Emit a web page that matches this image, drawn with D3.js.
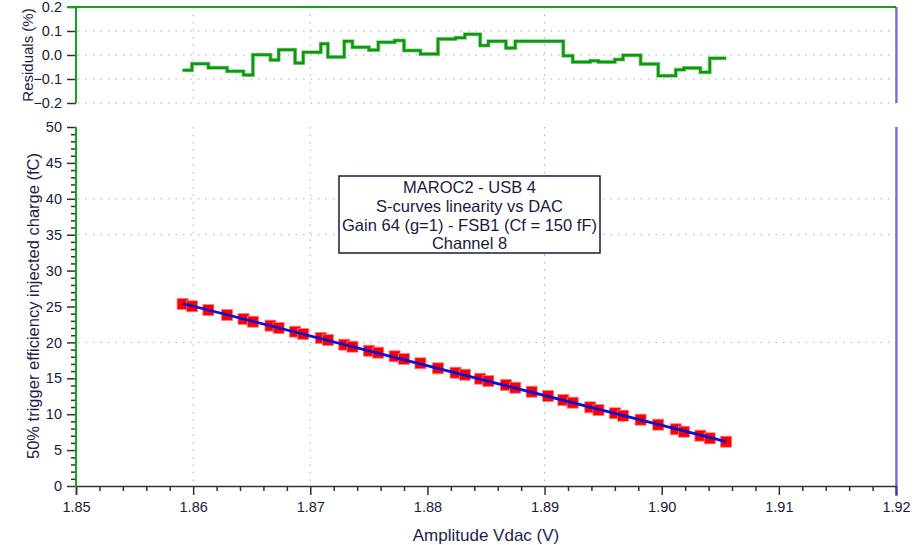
<!DOCTYPE html>
<html>
<head>
<meta charset="utf-8">
<script src="https://cdn.jsdelivr.net/npm/d3@7"></script>
<style>
  body { margin: 0; background: #fff; }
  svg { display: block; font-family: "Liberation Sans", Arial, sans-serif; }
  .tick text { fill: #1a1a36; }
</style>
</head>
<body>
<div id="chart"></div>
<script>
// amplitude Vdac (V) of each measured point
var vdac = [1.8591, 1.8599, 1.8613, 1.8629, 1.8643, 1.8651, 1.8666, 1.8673, 1.8687, 1.8694,
            1.8709, 1.8715, 1.8729, 1.8736, 1.8750, 1.8758, 1.8772, 1.8780, 1.8794, 1.8809,
            1.8824, 1.8832, 1.8845, 1.8852, 1.8867, 1.8875, 1.8889, 1.8903, 1.8916, 1.8924,
            1.8939, 1.8946, 1.8960, 1.8967, 1.8982, 1.8997, 1.9012, 1.9019, 1.9033, 1.9041,
            1.9055];
// 50% trigger efficiency injected charge (fC)
var charge = [25.35, 25.03, 24.51, 23.82, 23.26, 22.88, 22.33, 22.01, 21.49, 21.17,
              20.61, 20.33, 19.68, 19.40, 18.84, 18.57, 18.06, 17.69, 17.09, 16.39,
              15.78, 15.50, 14.94, 14.62, 14.07, 13.69, 13.13, 12.53, 11.98, 11.60,
              10.96, 10.58, 10.13, 9.79, 9.23, 8.54, 7.90, 7.56, 7.01, 6.64,
              6.17];
// residuals (%)
var residual = [-0.064, -0.036, -0.053, -0.068, -0.083, 0.001, -0.021, 0.022, -0.033, 0.011,
                0.047, -0.008, 0.057, 0.032, 0.021, 0.053, 0.060, 0.019, 0.004, 0.067,
                0.072, 0.086, 0.040, 0.057, 0.029, 0.057, 0.057, 0.057, -0.003, -0.029,
                -0.024, -0.029, -0.019, -0.001, -0.038, -0.086, -0.061, -0.054, -0.072, -0.014,
                -0.014];
// linear fit end points
var fitV = [1.8591, 1.9055];
var fitQ = [25.42, 6.17];

var xTicks = [1.85, 1.86, 1.87, 1.88, 1.89, 1.90, 1.91, 1.92];
var resTicks = [0.2, 0.1, 0.0, -0.1, -0.2];
var chargeTicks = [0, 5, 10, 15, 20, 25, 30, 35, 40, 45, 50];
var infoLines = ["MAROC2 - USB 4", "S-curves linearity vs DAC", "Gain 64 (g=1) - FSB1 (Cf = 150 fF)", "Channel 8"];

var W = 922, H = 545;
var left = 76, right = 896;
var resTop = 7, resBottom = 103, mainTop = 127, mainBottom = 486;

var svg = d3.select('#chart').append('svg').attr('width', W).attr('height', H);

var x = d3.scaleLinear().domain([1.85, 1.92]).range([left, right]);
var yr = d3.scaleLinear().domain([-0.2, 0.2]).range([resBottom, resTop]);
var y = d3.scaleLinear().domain([0, 50]).range([mainBottom, mainTop]);

var gridColor = '#a4a4f6';
var axisGreen = '#1ca01c';
var dark = '#303038';

// dotted grid
function vgrid(vals, y0, y1) {
  svg.append('g').selectAll('line').data(vals).enter().append('line')
    .attr('x1', d => x(d)).attr('x2', d => x(d))
    .attr('y1', y0).attr('y2', y1)
    .attr('stroke', gridColor).attr('stroke-width', 1).attr('stroke-dasharray', '1.5,6');
}
function hgrid(scale, vals) {
  svg.append('g').selectAll('line').data(vals).enter().append('line')
    .attr('x1', left + 2).attr('x2', right)
    .attr('y1', d => scale(d)).attr('y2', d => scale(d))
    .attr('stroke', gridColor).attr('stroke-width', 1).attr('stroke-dasharray', '1.5,6');
}
vgrid([1.86, 1.87, 1.89], resTop, resBottom);
vgrid([1.86, 1.87, 1.89], mainTop, mainBottom);
hgrid(yr, [0.1, 0.0, -0.1, -0.2]);
hgrid(y, [20, 35, 40]);

// residual panel axis
var resAxis = svg.append('g')
  .attr('transform', 'translate(' + left + ',0)')
  .call(d3.axisLeft(yr).tickValues(resTicks).tickFormat(d3.format('.1f')).tickSize(9).tickPadding(5));
resAxis.select('.domain').remove();
resAxis.selectAll('.tick line').attr('stroke', dark).attr('stroke-width', 1.5);
resAxis.selectAll('text').style('font-size', '14.5px');
svg.append('line').attr('x1', left).attr('x2', left).attr('y1', resTop - 1).attr('y2', resBottom)
  .attr('stroke', axisGreen).attr('stroke-width', 2);
svg.append('line').attr('x1', left - 9).attr('x2', right).attr('y1', resTop).attr('y2', resTop)
  .attr('stroke', axisGreen).attr('stroke-width', 2);

// main panel left axis with minor ticks
var minorY = d3.range(0, 51).filter(d => d % 5 !== 0);
var yMinor = svg.append('g')
  .attr('transform', 'translate(' + left + ',0)')
  .call(d3.axisLeft(y).tickValues(minorY).tickFormat('').tickSize(5));
yMinor.select('.domain').remove();
yMinor.selectAll('.tick line').attr('stroke', dark).attr('stroke-width', 1.5);
var yAxis = svg.append('g')
  .attr('transform', 'translate(' + left + ',0)')
  .call(d3.axisLeft(y).tickValues(chargeTicks).tickSize(9).tickPadding(5));
yAxis.select('.domain').remove();
yAxis.selectAll('.tick line').attr('stroke', dark).attr('stroke-width', 1.5);
yAxis.selectAll('text').style('font-size', '14.5px');

// bottom axis with minor ticks
var minorX = d3.range(0, 36).filter(d => d % 5 !== 0).map(d => 1.85 + d * 0.002);
var xMinor = svg.append('g')
  .attr('transform', 'translate(0,' + mainBottom + ')')
  .call(d3.axisBottom(x).tickValues(minorX).tickFormat('').tickSize(5));
xMinor.select('.domain').remove();
xMinor.selectAll('.tick line').attr('stroke', dark).attr('stroke-width', 1.5);
var xAxis = svg.append('g')
  .attr('transform', 'translate(0,' + mainBottom + ')')
  .call(d3.axisBottom(x).tickValues(xTicks).tickFormat(d3.format('.2f')).tickSize(9).tickPadding(7));
xAxis.select('.domain').attr('stroke', dark).attr('stroke-width', 1.5);
xAxis.selectAll('.tick line').attr('stroke', dark).attr('stroke-width', 1.5);
xAxis.selectAll('text').style('font-size', '14.5px');

svg.append('line').attr('x1', left).attr('x2', left).attr('y1', mainTop).attr('y2', mainBottom + 1)
  .attr('stroke', axisGreen).attr('stroke-width', 2);

// right borders
[[resTop, resBottom], [mainTop, mainBottom + 10]].forEach(function (r) {
  svg.append('line').attr('x1', right).attr('x2', right).attr('y1', r[0]).attr('y2', r[1])
    .attr('stroke', dark).attr('stroke-width', 1);
  svg.append('line').attr('x1', right + 1).attr('x2', right + 1).attr('y1', r[0]).attr('y2', r[1])
    .attr('stroke', '#4848ff').attr('stroke-width', 1);
});

// residual step line
var pts = vdac.map((v, i) => [v, residual[i]]);
var step = d3.line().x(d => x(d[0])).y(d => yr(d[1])).curve(d3.curveStepAfter);
svg.append('path').datum(pts).attr('d', step)
  .attr('fill', 'none').attr('stroke', '#8ad08a').attr('stroke-width', 4);
svg.append('path').datum(pts).attr('d', step)
  .attr('fill', 'none').attr('stroke', '#0e980e').attr('stroke-width', 2.5);

// data points
svg.append('g').selectAll('rect').data(vdac).enter().append('rect')
  .attr('x', (d, i) => x(d) - 5.5).attr('y', (d, i) => y(charge[i]) - 5.5)
  .attr('width', 11).attr('height', 11)
  .attr('fill', '#ff0000').attr('stroke', '#ff7a7a').attr('stroke-width', 0.8);

// fit line
svg.append('line')
  .attr('x1', x(fitV[0])).attr('y1', y(fitQ[0]))
  .attr('x2', x(fitV[1])).attr('y2', y(fitQ[1]))
  .attr('stroke', '#1010d4').attr('stroke-width', 2.8);

// info box
var box = svg.append('g');
box.append('rect').attr('x', 339).attr('y', 176).attr('width', 261).attr('height', 77)
  .attr('fill', '#fff').attr('stroke', '#1a1a3a').attr('stroke-width', 1.5);
box.selectAll('text').data(infoLines).enter().append('text')
  .attr('x', 469.5).attr('y', (d, i) => 193 + i * 18.8)
  .attr('text-anchor', 'middle')
  .style('font-size', '16.5px').attr('fill', '#1a1a40')
  .text(d => d);

// axis titles
svg.append('text').attr('transform', 'translate(33,55) rotate(-90)')
  .attr('text-anchor', 'middle').style('font-size', '15px').attr('fill', '#1e1e4a')
  .text('Residuals (%)');
svg.append('text').attr('transform', 'translate(39,306) rotate(-90)')
  .attr('text-anchor', 'middle').style('font-size', '16.5px').attr('fill', '#1e1e4a')
  .text('50% trigger efficiency injected charge (fC)');
svg.append('text').attr('x', 486).attr('y', 541)
  .attr('text-anchor', 'middle').style('font-size', '17px').attr('fill', '#1e1e4a')
  .text('Amplitude Vdac (V)');
</script>
</body>
</html>
